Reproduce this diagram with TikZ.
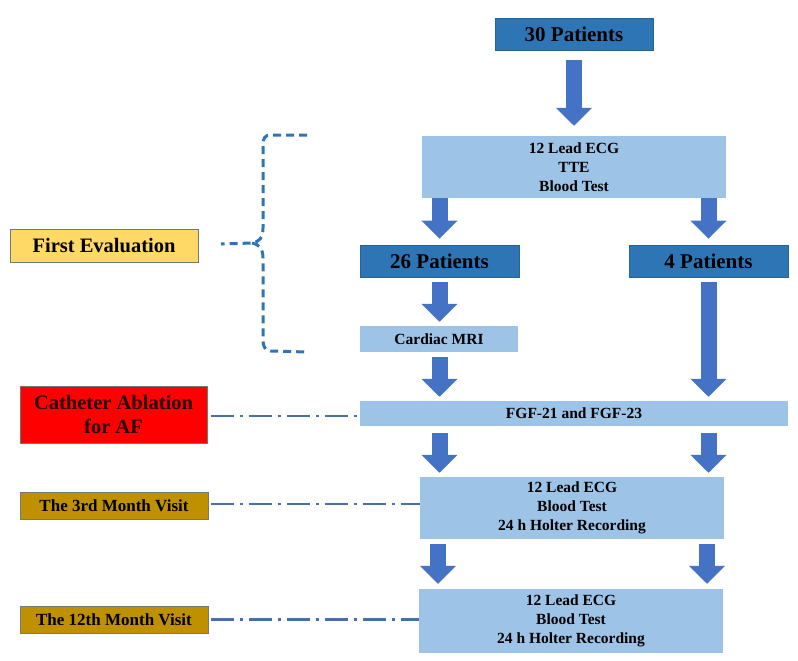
\documentclass[tikz,border=0pt]{standalone}
\usepackage{fontspec}
\setmainfont{Liberation Serif}
\usetikzlibrary{arrows.meta}
\definecolor{darkblue}{HTML}{2E75B6}
\definecolor{lightblue}{HTML}{9DC3E6}
\definecolor{arrowblue}{HTML}{4472C4}
\definecolor{linkblue}{HTML}{4A6FA8}
\definecolor{goldbox}{HTML}{BF9000}
\definecolor{yellowbox}{HTML}{FFD966}
\definecolor{edgegray}{HTML}{6E7B6E}
\tikzset{
  big/.style={font=\bfseries\fontsize{21}{24}\selectfont, inner sep=0pt, align=center},
  mid/.style={font=\bfseries\fontsize{15.5}{18.7}\selectfont, inner sep=0pt, align=center},
  darkbox/.style={big, fill=darkblue, draw=darkblue!85!black, line width=0.6pt},
  lightbox/.style={mid, fill=lightblue},
  sidebox/.style={inner sep=0pt, align=center, draw=edgegray, line width=1pt},
  blk/.style={arrowblue, line width=16pt, -{Triangle[width=35pt,length=18pt]}},
  link/.style={linkblue, line width=2.5pt, dash pattern=on 23pt off 6pt on 3pt off 6pt},
  brace/.style={darkblue, line width=3pt, dash pattern=on 8pt off 5pt}
}
\begin{document}
\begin{tikzpicture}[x=1pt,y=-1pt]
\useasboundingbox (0,0) rectangle (798,661);
% main column
\node[darkbox, minimum width=158pt, minimum height=32pt] (n30) at (574,34) {30 Patients};
\node[lightbox, minimum width=304pt, minimum height=62pt] (ecg1) at (574,167) {12 Lead ECG\\TTE\\Blood Test};
\node[darkbox, minimum width=159pt, minimum height=32pt] (n26) at (439.5,261) {26 Patients};
\node[darkbox, minimum width=159pt, minimum height=32pt] (n4) at (708.5,261) {4 Patients};
\node[lightbox, minimum width=158pt, minimum height=26pt] (mri) at (439,339) {Cardiac MRI};
\node[lightbox, minimum width=428pt, minimum height=25pt] (fgf) at (574,413.5) {FGF-21 and FGF-23};
\node[lightbox, minimum width=304pt, minimum height=62pt] (v3) at (572,508) {12 Lead ECG\\Blood Test\\24 h Holter Recording};
\node[lightbox, minimum width=304pt, minimum height=64pt] (v12) at (571,621) {12 Lead ECG\\Blood Test\\24 h Holter Recording};
% side labels
\node[sidebox, fill=yellowbox, minimum width=188pt, minimum height=33pt, font=\bfseries\fontsize{20.5}{24}\selectfont] (first) at (104,245.5) {First Evaluation};
\node[sidebox, fill=red, minimum width=187pt, minimum height=57pt, font=\bfseries\fontsize{20.5}{24}\selectfont, text=black!85!red] (cath) at (113.5,414.5) {Catheter Ablation\\for AF};
\node[sidebox, fill=goldbox, minimum width=188pt, minimum height=27pt, font=\bfseries\fontsize{17}{20}\selectfont] (m3) at (114,505.5) {The 3rd Month Visit};
\node[sidebox, fill=goldbox, minimum width=188pt, minimum height=27pt, font=\bfseries\fontsize{17}{20}\selectfont] (m12) at (114,619.5) {The 12th Month Visit};
% block arrows
\draw[blk] ([yshift=-10pt]n30.south) -- ([yshift=10pt]ecg1.north);
\draw[blk] (n26.north |- ecg1.south) -- ([yshift=6pt]n26.north);
\draw[blk] (n4.north |- ecg1.south) -- ([yshift=6pt]n4.north);
\draw[blk] ([yshift=-5pt]n26.south) -- ([yshift=4pt]mri.north -| n26.north);
\draw[blk] ([yshift=-5pt]mri.south -| n26.south) -- ([yshift=4pt]fgf.north -| n26.north);
\draw[blk] ([yshift=-5pt]n4.south) -- ([yshift=4pt]fgf.north -| n4.north);
\draw[blk] ([yshift=-7pt]fgf.south -| n26.south) -- ([yshift=4pt]v3.north -| n26.north);
\draw[blk] ([yshift=-7pt]fgf.south -| n4.south) -- ([yshift=4pt]v3.north -| n4.north);
\draw[blk] ([yshift=-5pt,xshift=-1.5pt]v3.south -| n26.south) -- ([yshift=5pt,xshift=-1.5pt]v12.north -| n26.north);
\draw[blk] ([yshift=-5pt,xshift=-1.5pt]v3.south -| n4.south) -- ([yshift=5pt,xshift=-1.5pt]v12.north -| n4.north);
% dash-dot links
\draw[link] ([xshift=3pt,yshift=-1.5pt]cath.east) -- ([yshift=-1.5pt]cath.east -| fgf.west);
\draw[link] ([xshift=2pt,yshift=1.5pt]m3.east) -- ([yshift=1.5pt]m3.east -| v3.west);
\draw[link] ([xshift=2pt]m12.east) -- (m12.east -| v12.west);
% brace
\coordinate (bt) at (307,135);
\coordinate (bb) at (307,352);
\coordinate (bc) at (252,243);
\coordinate (btip) at (221,244);
\draw[brace] (bt) -- (271,135) .. controls (265,135) and (263,138) .. (263,145)
  -- (263,228) .. controls (263,238) and (259,242) .. (bc) -- (btip);
\draw[brace] (bc) .. controls (259,244) and (263,249) .. (263,258)
  -- (263,340) .. controls (263,347) and (265,350) .. (271,351) -- (bb);
\end{tikzpicture}
\end{document}
